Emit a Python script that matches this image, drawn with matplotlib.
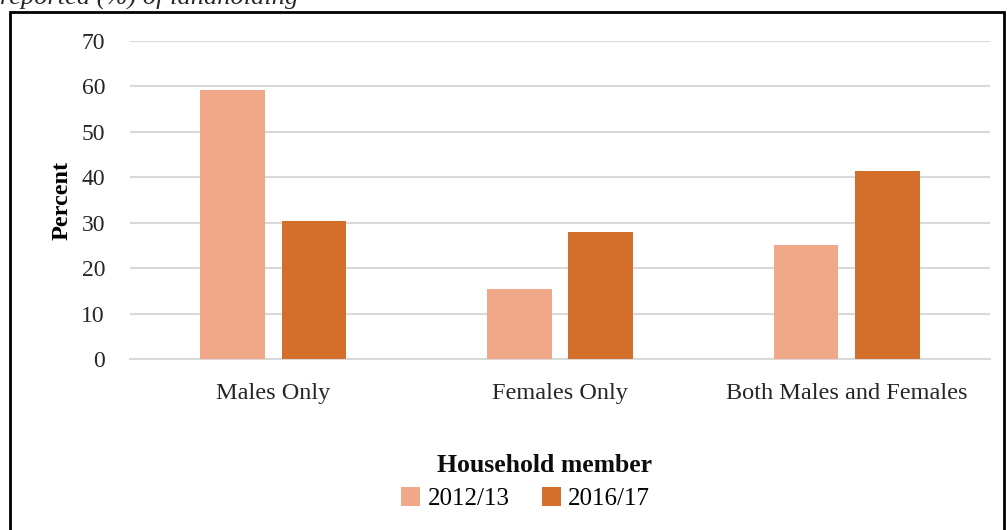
import matplotlib
matplotlib.use("Agg")
import matplotlib.pyplot as plt
import numpy as np
from matplotlib.patches import Rectangle

categories = ["Males Only", "Females Only", "Both Males and Females"]
series_names = ["2012/13", "2016/17"]
values_2012 = [59.2, 15.4, 25.2]
values_2016 = [30.4, 28.0, 41.4]
yticks = [0, 10, 20, 30, 40, 50, 60, 70]

light = "#F0A889"
dark = "#D36F2A"

plt.rcParams['font.family'] = ['Liberation Serif', 'DejaVu Serif']

fig = plt.figure(figsize=(10.07, 5.30), dpi=100)
ax = fig.add_axes([0.1291, 0.3226, 0.854, 0.6])

x = np.arange(len(categories))
width = 0.226
offset = 0.142
ax.bar(x - offset, values_2012, width, color=light, label=series_names[0], zorder=3)
ax.bar(x + offset, values_2016, width, color=dark, label=series_names[1], zorder=3)

ax.set_xlim(-0.5, 2.5)
ax.set_ylim(0, 70)
ax.set_yticks(yticks)
ax.set_xticks(x)
ax.set_xticklabels(categories)
ax.tick_params(axis='both', length=0, colors='#262626')
ax.tick_params(axis='y', pad=18, labelsize=17)
ax.tick_params(axis='x', pad=17, labelsize=17.5)
ax.grid(axis='y', color='#d9d9d9', linewidth=1.5, zorder=0)
for s in ['top', 'right', 'left']:
    ax.spines[s].set_visible(False)
ax.spines['bottom'].set_color('#d9d9d9')
ax.spines['bottom'].set_linewidth(1.5)

ax.set_ylabel("Percent", fontsize=17.5, fontweight='bold')
ax.yaxis.set_label_coords(-0.067, 0.5)

fig.text(0.541, 0.121, "Household member", ha='center', va='center',
         fontsize=18.5, fontweight='bold', color='#0d0d0d')
handles, labels = ax.get_legend_handles_labels()
fig.legend(handles, labels, loc='center', bbox_to_anchor=(0.522, 0.059), ncol=2,
           frameon=False, fontsize=18, handlelength=0.75, handleheight=0.75,
           handletextpad=0.3, columnspacing=1.3)

# cut-off caption at the top and the frame around the chart
fig.text(0.0, 1 - 4 / 530, "reported (%) of landholding", ha='left', va='baseline',
         fontsize=19, style='italic', color='#262626')
fig.patches.append(Rectangle((10 / 1007, -0.02), 994 / 1007, 1 - 12 / 530 + 0.02,
                             transform=fig.transFigure, fill=False,
                             edgecolor='black', linewidth=2))

fig.savefig("out.png", dpi=100)
